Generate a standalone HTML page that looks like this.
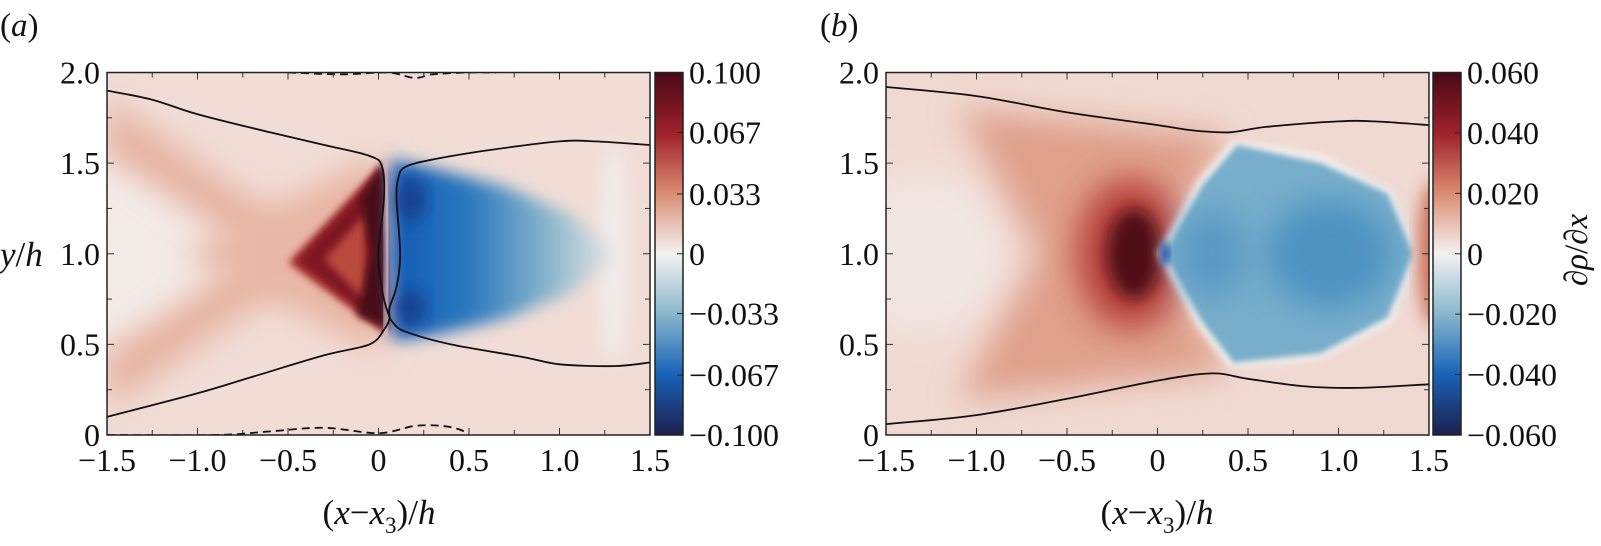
<!DOCTYPE html>
<html><head><meta charset="utf-8">
<style>
html,body{margin:0;padding:0;background:#fff;}
svg{display:block;font-family:"Liberation Serif",serif;}
</style></head>
<body>
<svg id="fig" width="1601" height="546" viewBox="0 0 1601 546" xmlns="http://www.w3.org/2000/svg">
<defs>
  <filter id="b3" x="-20%" y="-20%" width="140%" height="140%"><feGaussianBlur stdDeviation="3"/></filter>
  <filter id="b4" x="-20%" y="-20%" width="140%" height="140%"><feGaussianBlur stdDeviation="4"/></filter>
  <filter id="b8" x="-30%" y="-30%" width="160%" height="160%"><feGaussianBlur stdDeviation="8"/></filter>
  <filter id="b16" x="-40%" y="-40%" width="180%" height="180%"><feGaussianBlur stdDeviation="16"/></filter>
  <clipPath id="clipA"><rect x="107" y="72.5" width="543" height="362.5"/></clipPath>
  <clipPath id="clipB"><rect x="886" y="72.5" width="543" height="362.5"/></clipPath>
  <linearGradient id="cmap" x1="0" y1="0" x2="0" y2="1">
    <stop offset="0" stop-color="#470915"/>
    <stop offset="0.17" stop-color="#a0222c"/>
    <stop offset="0.33" stop-color="#d98a70"/>
    <stop offset="0.5" stop-color="#f4f2f1"/>
    <stop offset="0.67" stop-color="#86b5cc"/>
    <stop offset="0.83" stop-color="#1a64b8"/>
    <stop offset="1" stop-color="#1b1f4e"/>
  </linearGradient>
  <linearGradient id="blueA" x1="0" y1="0" x2="1" y2="0">
    <stop offset="0" stop-color="#1158b4"/>
    <stop offset="0.35" stop-color="#2a78be"/>
    <stop offset="0.7" stop-color="#8ab6cc"/>
    <stop offset="1" stop-color="#ece9e8"/>
  </linearGradient>
</defs>
<g id="layer"></g>
</svg>
<script>
// ---- data ----
const xTicks = [-1.5, -1.0, -0.5, 0, 0.5, 1.0, 1.5];
const xTickLabels = ["\u22121.5", "\u22121.0", "\u22120.5", "0", "0.5", "1.0", "1.5"];
const yTicks = [0, 0.5, 1.0, 1.5, 2.0];
const yTickLabels = ["0", "0.5", "1.0", "1.5", "2.0"];
const cbarATicks = [0.1, 0.067, 0.033, 0, -0.033, -0.067, -0.1];
const cbarALabels = ["0.100", "0.067", "0.033", "0", "\u22120.033", "\u22120.067", "\u22120.100"];
const cbarBTicks = [0.06, 0.04, 0.02, 0, -0.02, -0.04, -0.06];
const cbarBLabels = ["0.060", "0.040", "0.020", "0", "\u22120.020", "\u22120.040", "\u22120.060"];
const contourA1X = [-1.5,-1.25,-1.0,-0.6,-0.3,-0.05,0.02,0.03,0.0,0.02,0.05,0.08,0.15,0.4,0.8,1.0,1.3,1.5];
const contourA1Y = [1.9,1.85,1.77,1.67,1.6,1.54,1.48,1.3,1.0,0.8,0.68,0.62,0.57,0.5,0.43,0.39,0.38,0.4];
const contourA2X = [1.5,1.2,1.0,0.6,0.3,0.15,0.11,0.1,0.12,0.1,0.06,0.06,0.03,-0.05,-0.3,-0.7,-1.0,-1.5];
const contourA2Y = [1.6,1.62,1.62,1.57,1.52,1.48,1.42,1.3,1.0,0.82,0.7,0.64,0.58,0.5,0.44,0.32,0.23,0.1];
const dashA1X = [-1.5,-0.9,-0.6,-0.3,0.0,0.2,0.35,0.45,0.5];
const dashA1Y = [0.0,0.0,0.02,0.04,0.01,0.05,0.05,0.03,0.0];
const dashA2X = [-0.5,-0.2,0.05,0.2,0.3,0.5,0.65];
const dashA2Y = [2.0,1.99,2.0,1.97,1.99,2.0,2.0];
const contourB1X = [-1.5,-1.0,-0.5,0,0.2,0.4,0.6,1.0,1.2,1.5];
const contourB1Y = [1.92,1.87,1.78,1.71,1.68,1.67,1.7,1.73,1.73,1.71];
const contourB2X = [-1.5,-1.0,-0.5,0,0.3,0.5,0.8,1.1,1.5];
const contourB2Y = [0.06,0.11,0.2,0.3,0.34,0.31,0.27,0.26,0.28];

const NS = "http://www.w3.org/2000/svg";
const layer = document.getElementById('layer');
const T = 72.5, B = 435;
function sx(x0){ return v => x0 + (v + 1.5) * 181; }
function sy(v){ return B - v * 181.25; }
function el(tag, attrs, parent){ const e = document.createElementNS(NS, tag); for (const k in attrs) e.setAttribute(k, attrs[k]); (parent||layer).appendChild(e); return e; }
function pts(xs, ys, X){ return xs.map((v,i)=>X(v).toFixed(1)+','+sy(ys[i]).toFixed(1)).join(' '); }
function smooth(xs, ys, X){
  const p = xs.map((v,i)=>[X(v), sy(ys[i])]);
  let d = 'M'+p[0][0]+','+p[0][1];
  for (let i=0;i<p.length-1;i++){
    const p0=p[Math.max(0,i-1)], p1=p[i], p2=p[i+1], p3=p[Math.min(p.length-1,i+2)];
    const c1=[p1[0]+(p2[0]-p0[0])/6, p1[1]+(p2[1]-p0[1])/6];
    const c2=[p2[0]-(p3[0]-p1[0])/6, p2[1]-(p3[1]-p1[1])/6];
    d+=' C'+c1[0].toFixed(1)+','+c1[1].toFixed(1)+' '+c2[0].toFixed(1)+','+c2[1].toFixed(1)+' '+p2[0].toFixed(1)+','+p2[1].toFixed(1);
  }
  return d;
}
function poly(g, X, arr, fill, filt, name){
  const xs = arr.map(a=>a[0]), ys = arr.map(a=>a[1]);
  const e = el('polygon', {points: pts(xs, ys, X), fill: fill, filter: filt?('url(#'+filt+')'):''}, g);
  
  
  return e;
}
function ell(g, X, cx, cy, rx, ry, fill, filt, name){
  const e = el('ellipse', {cx: X(cx), cy: sy(cy), rx: rx*181, ry: ry*181, fill: fill, filter: filt?('url(#'+filt+')'):''}, g);
  
  
  return e;
}

function axes(X, x0, name){
  const g = el('g', {});
  
  
  for (let v=-1.5; v<=1.5001; v+=0.25){
    const px = X(v), major = Math.abs(v*2 - Math.round(v*2))<1e-6;
    const L = major?7:5;
    el('line',{x1:px,y1:B,x2:px,y2:B-L,stroke:'#333','stroke-width':1},g);
    el('line',{x1:px,y1:T,x2:px,y2:T+L,stroke:'#333','stroke-width':1},g);
  }
  for (let v=0; v<=2.0001; v+=0.25){
    const py = sy(v), major = Math.abs(v*2 - Math.round(v*2))<1e-6;
    const L = major?7:5;
    el('line',{x1:x0,y1:py,x2:x0+L,y2:py,stroke:'#333','stroke-width':1},g);
    el('line',{x1:x0+543,y1:py,x2:x0+543-L,y2:py,stroke:'#333','stroke-width':1},g);
  }
  el('rect',{x:x0,y:T,width:543,height:B-T,fill:'none',stroke:'#222','stroke-width':1.5},g);
  xTicks.forEach((v,i)=>{
    const t = el('text',{x:X(v),y:471,'font-size':32,'text-anchor':'middle',fill:'#111'},g);
    t.textContent = xTickLabels[i];
    
    
  });
  yTicks.forEach((v,i)=>{
    const t = el('text',{x:x0-7,y:sy(v)+11,'font-size':32,'text-anchor':'end',fill:'#111'},g);
    t.textContent = yTickLabels[i];
    
    
  });
}
function colorbar(cx, ticks, labels, vmax, name){
  const g = el('g', {});
  
  
  el('rect',{x:cx,y:T,width:28,height:B-T,fill:'url(#cmap)',stroke:'#222','stroke-width':1.5},g);
  ticks.forEach((v,i)=>{
    const py = T + (vmax - v)/(2*vmax)*(B-T);
    el('line',{x1:cx+28,y1:py,x2:cx+22,y2:py,stroke:'#222','stroke-width':1},g);
    const t = el('text',{x:cx+34,y:py+11,'font-size':32,fill:'#111'},g);
    t.textContent = labels[i];
    
    
  });
}
function line(g, X, xs, ys, dash, name){
  const e = el('path',{d:smooth(xs,ys,X),fill:'none',stroke:'#111','stroke-width':1.8,'stroke-dasharray':dash||''},g);
  
  
}

// ---------- Panel A ----------
const XA = sx(107);
const gA = el('g',{'clip-path':'url(#clipA)'});


el('rect',{x:107,y:T,width:543,height:B-T,fill:'#f1ddd6'},gA);
ell(gA, XA, -1.35, 1.0, 0.55, 0.5, '#f3ebe8', 'b16', 'light-core-a');
poly(gA, XA, [[-1.5,0.15],[-1.5,0.45],[0.0,1.45],[0.0,1.2]], '#e6b09e', 'b16', 'red-band-up-a');
poly(gA, XA, [[-1.5,1.85],[-1.5,1.55],[0.0,0.55],[0.0,0.8]], '#e6b09e', 'b16', 'red-band-down-a');
poly(gA, XA, [[-1.1,1.0],[0.02,1.55],[0.02,0.45]], '#e9b7a6', 'b16', 'red-wedge-a');
poly(gA, XA, [[-0.5,0.95],[0.03,1.5],[0.05,0.55]], '#a8302e', 'b4', 'red-triangle-a');
poly(gA, XA, [[-0.45,0.96],[0.03,1.48],[0.05,0.58]], '#7d1420', 'b4', 'dark-triangle-a');
poly(gA, XA, [[-0.3,0.97],[-0.07,1.22],[-0.07,0.74]], '#b9493e', 'b4', 'inner-triangle-a');
poly(gA, XA, [[-0.1,1.3],[0.02,1.5],[0.04,0.6],[-0.12,0.66],[-0.04,1.0]], '#470a15', 'b4', 'darkest-strip-a');
ell(gA, XA, 1.3, 1.0, 0.08, 0.6, '#f1ecea', 'b8', 'white-band-a');
poly(gA, XA, [[0.07,1.52],[0.3,1.47],[0.7,1.37],[1.05,1.22],[1.32,1.0],[1.05,0.78],[0.7,0.64],[0.3,0.55],[0.08,0.52],[0.06,1.0]], 'url(#blueA)', 'b8', 'blue-region-a');
ell(gA, XA, 0.18, 1.3, 0.08, 0.12, '#153f8f', 'b8', 'dark-blue-top-a');
ell(gA, XA, 0.18, 0.7, 0.08, 0.1, '#153f8f', 'b8', 'dark-blue-bottom-a');
el('path',{d:smooth([0.03,0.045,0.05,0.045,0.04],[1.5,1.25,1.0,0.75,0.55],XA),fill:'none',stroke:'#f6f3f1','stroke-width':4,filter:'url(#b3)'},gA);
line(gA, XA, contourA1X, contourA1Y, '', 'contour-a-1');
line(gA, XA, contourA2X, contourA2Y, '', 'contour-a-2');
line(gA, XA, dashA1X, dashA1Y, '8,5', 'dashed-contour-a-bottom');
line(gA, XA, dashA2X, dashA2Y, '8,5', 'dashed-contour-a-top');
axes(XA, 107, 'panel-a');
colorbar(655, cbarATicks, cbarALabels, 0.1, 'colorbar-a');

// ---------- Panel B ----------
const XB = sx(886);
const gB = el('g',{'clip-path':'url(#clipB)'});


el('rect',{x:886,y:T,width:543,height:B-T,fill:'#f0d9d1'},gB);
ell(gB, XB, -1.3, 1.0, 0.45, 0.45, '#f2e6e2', 'b16', 'light-core-b');
poly(gB, XB, [[-1.1,1.8],[0.4,1.65],[0.0,1.0],[0.4,0.35],[-1.1,0.2],[-0.65,1.0]], '#dfa08c', 'b16', 'red-region-b');
ell(gB, XB, -0.15, 1.0, 0.3, 0.42, '#b8423c', 'b16', 'red-halo-b');
ell(gB, XB, -0.13, 1.0, 0.15, 0.25, '#500a18', 'b8', 'dark-blob-b');
poly(gB, XB, [[0.0,1.0],[0.22,1.4],[0.42,1.63],[0.9,1.55],[1.3,1.35],[1.45,1.0],[1.3,0.62],[0.9,0.42],[0.4,0.37],[0.22,0.6]], '#f3efed', 'b4', 'white-edge-b');
poly(gB, XB, [[0.04,1.0],[0.25,1.38],[0.44,1.6],[0.9,1.5],[1.27,1.33],[1.41,1.0],[1.27,0.65],[0.9,0.45],[0.42,0.4],[0.25,0.62]], '#78aecb', 'b3', 'blue-diamond-b');
ell(gB, XB, 0.95, 1.0, 0.35, 0.3, '#4d93c2', 'b16', 'blue-center-b');
ell(gB, XB, 0.3, 1.0, 0.2, 0.25, '#5b9ac4', 'b16', 'blue-left-b');
ell(gB, XB, 0.04, 1.0, 0.025, 0.07, '#1b4ea8', 'b4', 'dark-blue-tip-b');
ell(gB, XB, 1.52, 1.0, 0.08, 0.4, '#cf7258', 'b8', 'red-right-edge-b');
line(gB, XB, contourB1X, contourB1Y, '', 'contour-b-upper');
line(gB, XB, contourB2X, contourB2Y, '', 'contour-b-lower');
axes(XB, 886, 'panel-b');
colorbar(1433, cbarBTicks, cbarBLabels, 0.06, 'colorbar-b');

// ---------- labels ----------
function txt(x,y,size,content,name,extra){
  const t = el('text',Object.assign({x:x,y:y,'font-size':size,fill:'#111'},extra||{}));
  t.innerHTML = content;
  
  
  return t;
}
txt(0,36,33,'(<tspan font-style="italic">a</tspan>)','panel-a-label');
txt(820,36,33,'(<tspan font-style="italic">b</tspan>)','panel-b-label');
txt(0,266,35,'<tspan font-style="italic">y</tspan>/<tspan font-style="italic">h</tspan>','y-axis-title');
txt(379,524,35,'(<tspan font-style="italic">x</tspan>\u2212<tspan font-style="italic">x</tspan><tspan font-size="23" dy="9">3</tspan><tspan dy="-9">)/</tspan><tspan font-style="italic">h</tspan>','x-axis-title-a',{'text-anchor':'middle'});
txt(1157,524,35,'(<tspan font-style="italic">x</tspan>\u2212<tspan font-style="italic">x</tspan><tspan font-size="23" dy="9">3</tspan><tspan dy="-9">)/</tspan><tspan font-style="italic">h</tspan>','x-axis-title-b',{'text-anchor':'middle'});
txt(0,0,33,'\u2202<tspan font-style="italic">\u03c1</tspan>/\u2202<tspan font-style="italic">x</tspan>','colorbar-b-title',{'text-anchor':'middle',transform:'translate(1587,250) rotate(-90)'});
</script>
</body></html>
